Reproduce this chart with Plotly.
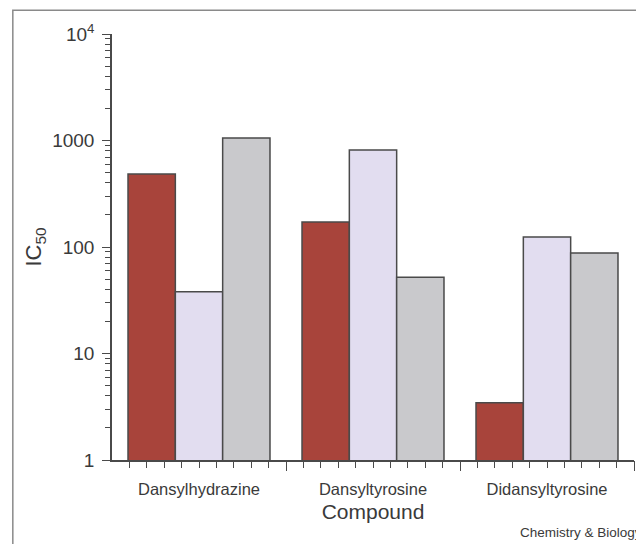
import plotly.graph_objects as go

compounds = ["Dansylhydrazine", "Dansyltyrosine", "Didansyltyrosine"]
series_a = [484, 172, 3.45]
series_b = [38, 814, 124]
series_c = [1055, 52, 88]
y_tickvals = [1, 10, 100, 1000, 10000]
y_ticktext = ["1", "10", "100", "1000", "10<sup>4</sup>"]

colors = ["#A8443B", "#E2DDF0", "#C9C9CC"]
edge = "#4a4a4a"
font_fam = "Liberation Sans, Arial, Helvetica, sans-serif"
txt = "#3a3a3a"

xpos = list(range(len(compounds)))

fig = go.Figure()
for vals, col in zip([series_a, series_b, series_c], colors):
    fig.add_trace(go.Bar(x=xpos, y=vals, marker=dict(color=col, line=dict(color=edge, width=1.5)),
                         showlegend=False))

minor_x = [g + k / 10 for g in xpos for k in range(-4, 5)]
minor_y = [m * 10 ** d for d in range(4) for m in range(2, 10)]

fig.update_layout(
    width=636, height=536,
    margin=dict(l=104, r=10, t=26, b=84),
    paper_bgcolor="white", plot_bgcolor="white",
    barmode="group", bargap=0.184, bargroupgap=0,
    font=dict(family=font_fam, color=txt, size=16),
    xaxis=dict(range=[-0.5, 2.5], showline=True, linecolor=edge, linewidth=1.5,
               tickvals=xpos, ticktext=compounds, ticks="", tickfont=dict(size=16.5),
               ticklabelstandoff=13,
               showgrid=False, zeroline=False, automargin=False,
               minor=dict(tickvals=minor_x, ticks="outside", ticklen=6, tickwidth=1.3, tickcolor=edge, showgrid=False),
               title=dict(text="Compound", font=dict(size=21), standoff=8)),
    xaxis2=dict(range=[-0.5, 2.5], overlaying="x", anchor="y", side="bottom",
                tickvals=[0.5, 1.5, 2.5], ticks="outside", ticklen=10, tickwidth=1.3, tickcolor=edge,
                showticklabels=False, showgrid=False, zeroline=False, showline=False, automargin=False),
    yaxis=dict(type="log", range=[0, 4], showline=True, linecolor=edge, linewidth=1.5,
               tickvals=y_tickvals, ticktext=y_ticktext, ticks="outside", ticklen=8, tickwidth=1.3,
               tickcolor=edge, tickfont=dict(size=19), showgrid=False, zeroline=False,
               ticklabelstandoff=4, automargin=False,
               minor=dict(tickvals=minor_y, ticks="outside", ticklen=5, tickwidth=1.2, tickcolor=edge, showgrid=False),
               title=dict(text="IC<sub>50</sub>", font=dict(size=22), standoff=4)),
)

# invisible trace to activate xaxis2
fig.add_trace(go.Scatter(x=[0], y=[1], xaxis="x2", mode="markers", marker=dict(opacity=0),
                         showlegend=False, hoverinfo="skip"))

fig.add_shape(type="rect", xref="paper", yref="paper", x0=-0.19, x1=1.05, y0=-0.25, y1=1.056,
              line=dict(color="#8a8a8a", width=1.5), fillcolor="rgba(0,0,0,0)", layer="below")

fig.add_annotation(text="Chemistry & Biology", xref="paper", yref="paper", x=1.019, y=-0.171,
                   xanchor="right", yanchor="middle", showarrow=False,
                   font=dict(size=13.5, color=txt, family=font_fam))

fig.write_html("out.html")
